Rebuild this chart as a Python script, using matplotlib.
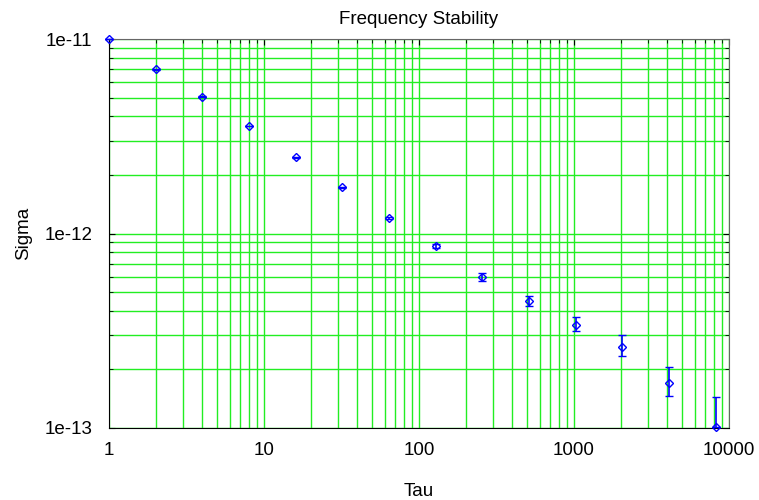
import matplotlib.pyplot as plt
import numpy as np
from matplotlib.ticker import LogLocator, FixedLocator, NullFormatter

plt.rcParams['font.family'] = ['Liberation Sans', 'DejaVu Sans']

# Allan deviation data
tau = [1, 2, 4, 8, 16, 32, 64, 128, 256, 512, 1024, 2048, 4096, 8192]
sigma = [1.0e-11, 7.0e-12, 5.04e-12, 3.57e-12, 2.47e-12, 1.73e-12, 1.20e-12,
         8.63e-13, 5.97e-13, 4.49e-13, 3.40e-13, 2.62e-13, 1.70e-13, 1.015e-13]
err_lo = [0.5e-13, 0.4e-13, 0.3e-13, 0.2e-13, 0.15e-13, 0.12e-13, 0.1e-13,
          0.2e-13, 0.28e-13, 0.27e-13, 0.26e-13, 0.27e-13, 0.24e-13, 0.0]
err_hi = [0.5e-13, 0.4e-13, 0.3e-13, 0.2e-13, 0.15e-13, 0.12e-13, 0.1e-13,
          0.2e-13, 0.28e-13, 0.27e-13, 0.33e-13, 0.39e-13, 0.36e-13, 0.42e-13]

x_ticks = [1, 10, 100, 1000, 10000]
x_labels = ['1', '10', '100', '1000', '10000']
y_ticks = [1e-13, 1e-12, 1e-11]
y_labels = ['1e-13', '1e-12', '1e-11']

fig = plt.figure(figsize=(7.59, 5.0), dpi=100)
ax = fig.add_axes([0.1436, 0.144, 0.8169, 0.778])

ax.set_xscale('log')
ax.set_yscale('log')
ax.set_xlim(1, 10000)
ax.set_ylim(1e-13, 1e-11)

ax.xaxis.set_major_locator(FixedLocator(x_ticks))
ax.set_xticklabels(x_labels)
ax.yaxis.set_major_locator(FixedLocator(y_ticks))
ax.set_yticklabels(y_labels)
ax.xaxis.set_minor_locator(LogLocator(base=10, subs=np.arange(2, 10)))
ax.yaxis.set_minor_locator(LogLocator(base=10, subs=np.arange(2, 10)))
ax.xaxis.set_minor_formatter(NullFormatter())
ax.yaxis.set_minor_formatter(NullFormatter())

ax.grid(True, which='both', color='#22ee22', linewidth=1.0)
ax.set_axisbelow(True)

ax.tick_params(which='both', direction='in', top=True, right=True,
               bottom=False, labelsize=13.5)
ax.tick_params(axis='x', pad=10)
ax.tick_params(axis='y', pad=12)
ax.tick_params(which='major', length=4)
ax.tick_params(which='minor', length=3)

for s in ['left', 'bottom']:
    ax.spines[s].set_color('black')
for s in ['top', 'right']:
    ax.spines[s].set_color('#666666')

ax.errorbar(tau, sigma, yerr=[err_lo, err_hi], fmt='D', markersize=4,
            markerfacecolor='none', markeredgecolor='blue', markeredgewidth=1.0,
            ecolor='blue', elinewidth=1.2, capsize=3, capthick=1.0,
            clip_on=False, zorder=5)

ax.set_title('Frequency Stability', fontsize=13.5, pad=11)
ax.set_xlabel('Tau', fontsize=13.5, labelpad=17)
ax.set_ylabel('Sigma', fontsize=13.5, labelpad=9)

fig.savefig('out.png', dpi=100)
